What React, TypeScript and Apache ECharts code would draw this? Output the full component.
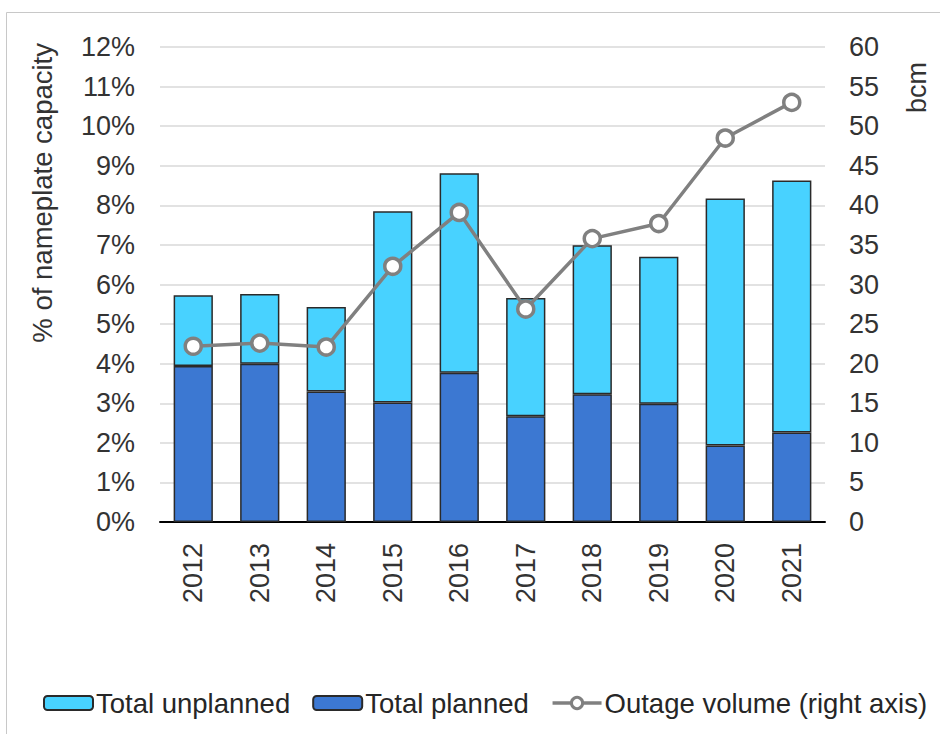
import React, { useEffect, useRef } from "react";
import * as echarts from "echarts";

const years = ["2012", "2013", "2014", "2015", "2016", "2017", "2018", "2019", "2020", "2021"];
const plannedPct = [3.94, 4.0, 3.3, 3.02, 3.77, 2.67, 3.23, 2.99, 1.93, 2.26];
const unplannedPct = [1.79, 1.76, 2.13, 4.83, 5.04, 2.99, 3.76, 3.71, 6.24, 6.37];
const outageBcm = [22.2, 22.6, 22.1, 32.3, 39.1, 26.9, 35.8, 37.7, 48.5, 53.0];

const FONT = "'Liberation Sans', Arial, sans-serif";

export default function App() {
  const ref = useRef<HTMLDivElement>(null);
  useEffect(() => {
    if (!ref.current) return;
    const chart = echarts.init(ref.current, undefined, { renderer: "svg" });
    const labelStyle = { color: "#333", fontSize: 27, fontFamily: FONT };
    chart.setOption({
      animation: false,
      backgroundColor: "#fff",
      textStyle: { fontFamily: FONT },
      grid: { left: 160, right: 115, top: 47, bottom: 212, containLabel: false },
      legend: {
        left: 38,
        top: 684,
        itemWidth: 49,
        itemHeight: 14,
        itemGap: 22,
        textStyle: { color: "#262626", fontSize: 27.5, fontFamily: FONT, padding: [0, 0, 0, -2] },
        data: [
          { name: "Total unplanned" },
          { name: "Total planned" },
          {
            name: "Outage volume (right axis)",
            lineStyle: { width: 3.5, color: "#808080" },
            itemStyle: { color: "#fff", borderColor: "#808080", borderWidth: 3 },
          },
        ],
      },
      xAxis: {
        type: "category",
        data: years,
        axisLine: { lineStyle: { color: "#000", width: 2 } },
        axisTick: { show: false },
        axisLabel: { ...labelStyle, rotate: 90, margin: 21 },
      },
      yAxis: [
        {
          type: "value",
          min: 0,
          max: 12,
          interval: 1,
          axisLine: { show: false },
          axisTick: { show: false },
          axisLabel: { ...labelStyle, margin: 25, formatter: "{value}%" },
          splitLine: { lineStyle: { color: "#d9d9d9", width: 1.5 } },
        },
        {
          type: "value",
          min: 0,
          max: 60,
          interval: 5,
          axisLine: { show: false },
          axisTick: { show: false },
          axisLabel: { ...labelStyle, margin: 24 },
          splitLine: { show: false },
        },
      ],
      graphic: [
        {
          type: "rect",
          shape: { x: 6.5, y: 12.5, width: 1200, height: 1200 },
          style: { fill: "none", stroke: "#c8c8c8", lineWidth: 1 },
          z: -1,
        },
        {
          type: "text",
          x: 42,
          y: 43,
          rotation: Math.PI / 2,
          style: {
            text: "% of nameplate capacity",
            align: "right",
            verticalAlign: "middle",
            fontSize: 27.5,
            fontFamily: FONT,
            fill: "#333",
          },
        },
        {
          type: "text",
          x: 917,
          y: 62,
          rotation: Math.PI / 2,
          style: {
            text: "bcm",
            align: "right",
            verticalAlign: "middle",
            fontSize: 27,
            fontFamily: FONT,
            fill: "#333",
          },
        },
      ],
      series: [
        {
          name: "Total planned",
          type: "bar",
          stack: "total",
          barWidth: "59%",
          data: plannedPct,
          itemStyle: { color: "#3c78d2", borderColor: "#2a2a2a", borderWidth: 1.5 },
        },
        {
          name: "Total unplanned",
          type: "bar",
          stack: "total",
          barWidth: "59%",
          data: unplannedPct,
          itemStyle: { color: "#48d2ff", borderColor: "#2a2a2a", borderWidth: 1.5 },
        },
        {
          name: "Outage volume (right axis)",
          type: "line",
          yAxisIndex: 1,
          data: outageBcm,
          symbol: "circle",
          symbolSize: 16,
          lineStyle: { color: "#808080", width: 3.5 },
          itemStyle: { color: "#fff", borderColor: "#808080", borderWidth: 3.5 },
        },
      ],
    });
    return () => chart.dispose();
  }, []);
  return <div ref={ref} style={{ position: "fixed", left: 0, top: 0, width: 940, height: 734 }} />;
}
